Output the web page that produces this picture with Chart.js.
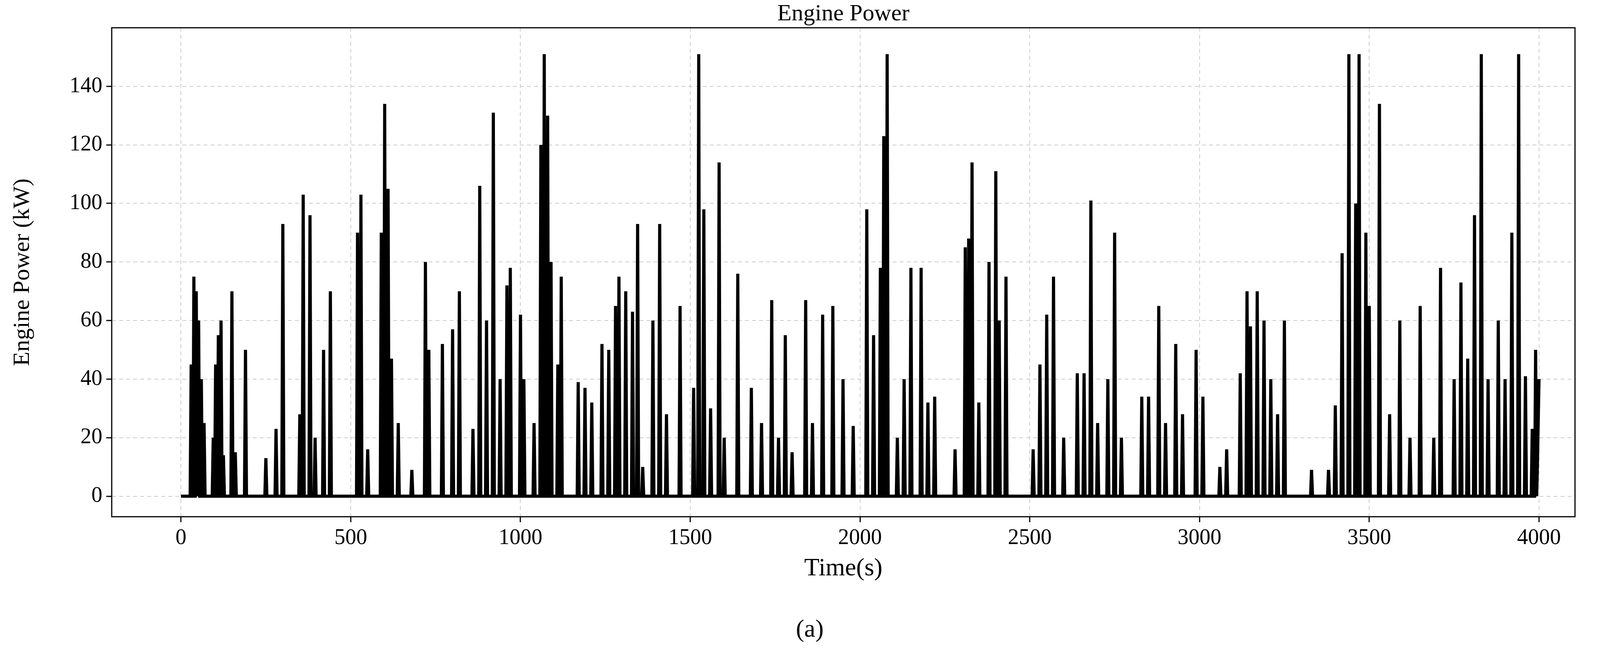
<!DOCTYPE html>
<html><head><meta charset="utf-8">
<script src="https://cdn.jsdelivr.net/npm/chart.js@4/dist/chart.umd.min.js"></script>
<style>html,body{margin:0;background:#fff}canvas{display:block}</style>
</head><body><canvas id="c" width="4146" height="1663"></canvas>
<script>
const spikeTimes=[30,38,45,52,60,68,95,102,110,118,125,150,160,190,250,280,300,350,360,380,395,420,440,520,530,550,590,600,610,620,640,680,720,730,770,800,820,860,880,900,920,940,960,970,1000,1010,1040,1060,1070,1080,1090,1110,1120,1170,1190,1210,1240,1260,1280,1290,1310,1330,1345,1360,1390,1410,1430,1470,1510,1525,1540,1560,1585,1600,1640,1680,1710,1740,1760,1780,1800,1840,1860,1890,1920,1950,1980,2020,2040,2060,2070,2080,2110,2130,2150,2180,2200,2220,2280,2310,2320,2330,2350,2380,2400,2410,2430,2510,2530,2550,2570,2600,2640,2660,2680,2700,2730,2750,2770,2830,2850,2880,2900,2930,2950,2990,3010,3060,3080,3120,3140,3150,3170,3190,3210,3230,3250,3330,3380,3400,3420,3440,3460,3470,3490,3500,3530,3560,3590,3620,3650,3690,3710,3750,3770,3790,3810,3830,3850,3880,3900,3920,3940,3960,3980,3990];
const spikeValues=[45,75,70,60,40,25,20,45,55,60,14,70,15,50,13,23,93,28,103,96,20,50,70,90,103,16,90,134,105,47,25,9,80,50,52,57,70,23,106,60,131,40,72,78,62,40,25,120,151,130,80,45,75,39,37,32,52,50,65,75,70,63,93,10,60,93,28,65,37,151,98,30,114,20,76,37,25,67,20,55,15,67,25,62,65,40,24,98,55,78,123,151,20,40,78,78,32,34,16,85,88,114,32,80,111,60,75,16,45,62,75,20,42,42,101,25,40,90,20,34,34,65,25,52,28,50,34,10,16,42,70,58,70,60,40,28,60,9,9,31,83,151,100,151,90,65,134,28,60,20,65,20,78,40,73,47,96,151,40,60,40,90,151,41,23,50];
const xTicks=[0,500,1000,1500,2000,2500,3000,3500,4000];
const yTicks=[0,20,40,60,80,100,120,140];
const pts=[{x:0,y:0}];
spikeTimes.forEach((t,i)=>{pts.push({x:t-3,y:0},{x:t,y:spikeValues[i]},{x:t+3,y:0});});
pts.push({x:3995,y:9},{x:4000,y:40});
const F='"Liberation Serif","DejaVu Serif",serif';
const deco={id:'deco',afterDraw(c){const g=c.ctx,a=c.chartArea;g.save();g.strokeStyle='#000';g.lineWidth=3;g.strokeRect(a.left,a.top,a.right-a.left,a.bottom-a.top);
g.fillStyle='#000';g.textAlign='center';g.textBaseline='middle';g.font='60px '+F;g.fillText('Engine Power',(a.left+a.right)/2,36);
g.font='64px '+F;g.fillText('Time(s)',(a.left+a.right)/2,1455);g.fillText('(a)',2073,1612);
g.font='60px '+F;g.translate(58,(a.top+a.bottom)/2);g.rotate(-Math.PI/2);g.fillText('Engine Power (kW)',0,0);g.restore();}};
new Chart(document.getElementById('c'),{type:'line',data:{datasets:[{data:pts,borderColor:'#000',borderWidth:8,pointRadius:0,tension:0}]},
options:{responsive:false,animation:false,layout:{padding:{top:71,right:114,left:0,bottom:0}},plugins:{legend:{display:false},tooltip:{enabled:false}},
scales:{x:{type:'linear',min:-204,max:4106,afterFit(s){s.height=341;},afterBuildTicks(s){s.ticks=xTicks.map(v=>({value:v}));},
grid:{color:'#ccc',lineWidth:2,tickColor:'#000',tickLength:14,tickWidth:3},border:{dash:[10,8],color:'#000'},ticks:{font:{size:56,family:F},color:'#000',padding:8,maxRotation:0,callback:v=>String(v)}},
y:{min:-7,max:160,afterFit(s){s.width=286;},afterBuildTicks(s){s.ticks=yTicks.map(v=>({value:v}));},
grid:{color:'#ccc',lineWidth:2,tickColor:'#000',tickLength:14,tickWidth:3},border:{dash:[10,8],color:'#000'},ticks:{font:{size:56,family:F},color:'#000',padding:10,callback:v=>String(v)}}}},plugins:[deco]});
</script></body></html>
